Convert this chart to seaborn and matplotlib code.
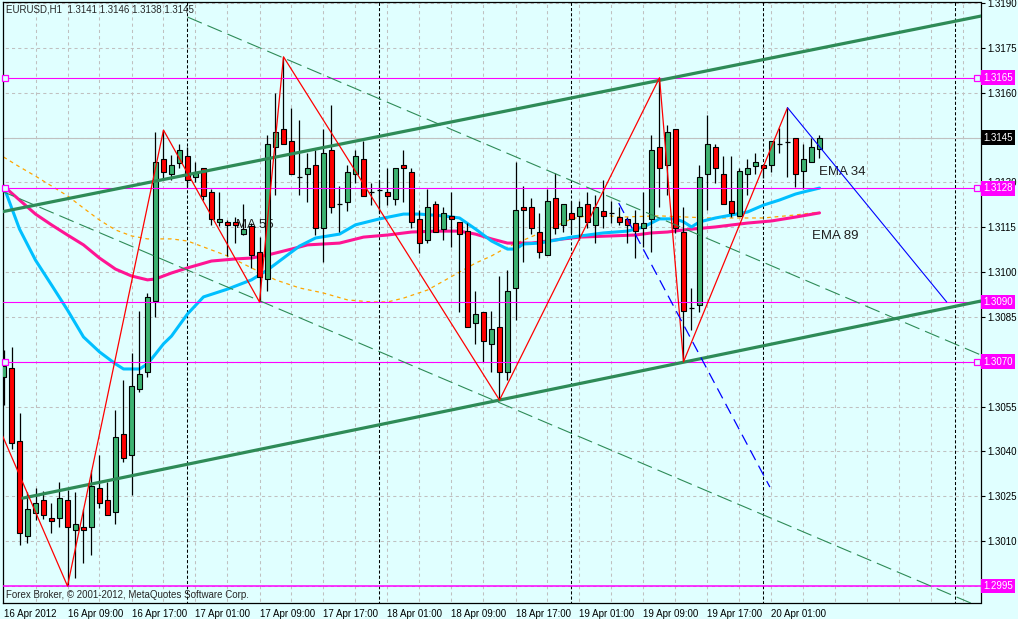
import matplotlib
matplotlib.use("Agg")
import matplotlib.pyplot as plt
import matplotlib.transforms as mtransforms
import numpy as np
import seaborn as sns

# EURUSD H1 candles, bar 0 = 16 Apr 2012 01:00
opens = [1.30649, 1.30679, 1.30435, 1.30118, 1.30195, 1.30238, 1.30178, 1.30178, 1.30238, 1.30138,
         1.30148, 1.30148, 1.30278, 1.30238, 1.30198, 1.30459, 1.30389, 1.30609, 1.30666, 1.30903,
         1.31378, 1.31328, 1.31365, 1.31388, 1.31318, 1.31348, 1.31268, 1.31168, 1.31168, 1.31168,
         1.31128, 1.31154, 1.31067, 1.30977, 1.31418, 1.31479, 1.31439, 1.31318, 1.31328, 1.31358,
         1.31148, 1.31408, 1.31228, 1.31235, 1.31328, 1.31378, 1.31268, 1.31275, 1.31268, 1.31245,
         1.31358, 1.31335, 1.31178, 1.31107, 1.31228, 1.31144, 1.31188, 1.31168, 1.31138, 1.30830,
         1.30867, 1.30760, 1.30817, 1.30666, 1.30947, 1.31218, 1.31218, 1.31134, 1.31057, 1.31248,
         1.31158, 1.31198, 1.31188, 1.31228, 1.31158, 1.31204, 1.31198, 1.31184, 1.31178, 1.31164,
         1.31148, 1.31178, 1.31418, 1.31358, 1.31479, 1.31134, 1.30880, 1.30890, 1.31328, 1.31418,
         1.31328, 1.31238, 1.31188, 1.31328, 1.31355, 1.31358, 1.31358, 1.31428, 1.31435, 1.31449,
         1.31338, 1.31368, 1.31410]
highs = [1.30740, 1.30750, 1.30529, 1.30265, 1.30278, 1.30268, 1.30228, 1.30298, 1.30271, 1.30265,
         1.30208, 1.30338, 1.30389, 1.30298, 1.30539, 1.30639, 1.30730, 1.30870, 1.30930, 1.31469,
         1.31475, 1.31392, 1.31428, 1.31418, 1.31368, 1.31348, 1.31278, 1.31268, 1.31174, 1.31184,
         1.31228, 1.31164, 1.31118, 1.31459, 1.31599, 1.31720, 1.31549, 1.31509, 1.31398, 1.31408,
         1.31479, 1.31559, 1.31288, 1.31358, 1.31408, 1.31439, 1.31298, 1.31308, 1.31348, 1.31348,
         1.31408, 1.31348, 1.31208, 1.31278, 1.31238, 1.31218, 1.31268, 1.31168, 1.31164, 1.30937,
         1.30867, 1.30870, 1.30987, 1.31007, 1.31368, 1.31288, 1.31248, 1.31198, 1.31278, 1.31332,
         1.31228, 1.31238, 1.31238, 1.31268, 1.31258, 1.31308, 1.31238, 1.31218, 1.31184, 1.31208,
         1.31268, 1.31459, 1.31650, 1.31492, 1.31479, 1.31218, 1.30947, 1.31358, 1.31525, 1.31428,
         1.31388, 1.31388, 1.31348, 1.31378, 1.31398, 1.31358, 1.31439, 1.31482, 1.31550, 1.31449,
         1.31428, 1.31449, 1.31460]
lows = [1.30556, 1.30409, 1.30088, 1.30094, 1.30171, 1.30175, 1.30128, 1.30148, 1.29950, 1.29977,
        1.30027, 1.30054, 1.30211, 1.30188, 1.30158, 1.30365, 1.30255, 1.30599, 1.30649, 1.30850,
        1.31308, 1.31308, 1.31348, 1.31285, 1.31301, 1.31241, 1.31158, 1.31154, 1.31054, 1.31097,
        1.31125, 1.31014, 1.30900, 1.30937, 1.31258, 1.31428, 1.31328, 1.31258, 1.31235, 1.31124,
        1.31034, 1.31198, 1.31134, 1.31204, 1.31298, 1.31255, 1.31224, 1.31198, 1.31224, 1.31224,
        1.31235, 1.31148, 1.31064, 1.31097, 1.31134, 1.31107, 1.31084, 1.30867, 1.30817, 1.30760,
        1.30700, 1.30666, 1.30572, 1.30639, 1.30840, 1.31034, 1.31128, 1.31047, 1.31057, 1.31128,
        1.31134, 1.31130, 1.31107, 1.31148, 1.31097, 1.31148, 1.31164, 1.31158, 1.31097, 1.31047,
        1.31084, 1.31067, 1.31218, 1.31258, 1.31130, 1.30700, 1.30807, 1.30867, 1.31208, 1.31298,
        1.31228, 1.31184, 1.31188, 1.31258, 1.31328, 1.31315, 1.31335, 1.31398, 1.31318, 1.31285,
        1.31278, 1.31368, 1.31380]
closes = [1.30686, 1.30429, 1.30128, 1.30208, 1.30228, 1.30188, 1.30168, 1.30245, 1.30148, 1.30158,
          1.30138, 1.30285, 1.30228, 1.30188, 1.30449, 1.30378, 1.30619, 1.30659, 1.30917, 1.31368,
          1.31335, 1.31358, 1.31408, 1.31308, 1.31335, 1.31255, 1.31178, 1.31178, 1.31158, 1.31158,
          1.31144, 1.31057, 1.30984, 1.31428, 1.31469, 1.31428, 1.31328, 1.31320, 1.31348, 1.31148,
          1.31398, 1.31218, 1.31230, 1.31335, 1.31388, 1.31255, 1.31270, 1.31277, 1.31255, 1.31348,
          1.31348, 1.31168, 1.31097, 1.31218, 1.31134, 1.31198, 1.31178, 1.31128, 1.30817, 1.30860,
          1.30770, 1.30810, 1.30666, 1.30937, 1.31208, 1.31208, 1.31148, 1.31067, 1.31238, 1.31148,
          1.31228, 1.31178, 1.31218, 1.31168, 1.31218, 1.31188, 1.31200, 1.31168, 1.31158, 1.31138,
          1.31164, 1.31408, 1.31348, 1.31469, 1.31148, 1.30870, 1.30882, 1.31318, 1.31428, 1.31348,
          1.31228, 1.31198, 1.31338, 1.31348, 1.31368, 1.31348, 1.31439, 1.31430, 1.31437, 1.31328,
          1.31378, 1.31418, 1.31450]

# moving averages (bar, price)
ema34_bars = [0, 2, 4, 6, 8, 10, 12, 14, 15, 17, 18, 19, 20, 21, 23, 25, 28, 31, 33, 35,
              37, 39, 42, 44, 47, 50, 52, 55, 57, 59, 61, 63, 64, 65, 67, 71, 75, 78, 80, 82,
              84, 85, 86, 87, 89, 91, 93, 95, 97, 99, 100, 102]
ema34 = [1.31288, 1.31144, 1.31040, 1.30957, 1.30873, 1.30783, 1.30733, 1.30693, 1.30676, 1.30676,
         1.30693, 1.30726, 1.30760, 1.30786, 1.30860, 1.30917, 1.30943, 1.30974, 1.31007, 1.31047,
         1.31087, 1.31114, 1.31127, 1.31158, 1.31178, 1.31194, 1.31194, 1.31188, 1.31181, 1.31144,
         1.31104, 1.31077, 1.31077, 1.31094, 1.31097, 1.31117, 1.31131, 1.31137, 1.31151, 1.31178,
         1.31178, 1.31168, 1.31151, 1.31168, 1.31181, 1.31191, 1.31201, 1.31224, 1.31241, 1.31261,
         1.31268, 1.31281]
ema89_bars = [0, 2, 4, 6, 8, 10, 12, 14, 16, 18, 19, 20, 21, 23, 26, 29, 31, 33, 36, 38,
              42, 45, 48, 51, 54, 57, 59, 61, 63, 66, 70, 72, 76, 79, 81, 83, 85, 89, 93, 96,
              99, 102]
ema89 = [1.31288, 1.31241, 1.31194, 1.31158, 1.31124, 1.31091, 1.31047, 1.31010, 1.30987, 1.30974,
         1.30977, 1.30987, 1.30997, 1.31014, 1.31037, 1.31044, 1.31047, 1.31057, 1.31077, 1.31091,
         1.31097, 1.31117, 1.31124, 1.31134, 1.31137, 1.31137, 1.31127, 1.31111, 1.31097, 1.31097,
         1.31111, 1.31117, 1.31121, 1.31124, 1.31131, 1.31134, 1.31141, 1.31151, 1.31164, 1.31171,
         1.31184, 1.31198]
ma55_bars = [0, 2, 4, 6, 8, 10, 12, 14, 16, 18, 21, 23, 25, 28, 31, 34, 37, 40, 43, 46,
             48, 50, 53, 55, 57, 59, 61, 63, 65, 68, 71, 74, 77, 82, 88, 95, 99, 102]
ma55 = [1.31385, 1.31352, 1.31321, 1.31288, 1.31255, 1.31214, 1.31174, 1.31141, 1.31121, 1.31111,
        1.31111, 1.31104, 1.31084, 1.31054, 1.31014, 1.30974, 1.30947, 1.30930, 1.30907, 1.30900,
        1.30900, 1.30913, 1.30940, 1.30970, 1.31000, 1.31030, 1.31054, 1.31084, 1.31107, 1.31141,
        1.31178, 1.31194, 1.31184, 1.31188, 1.31181, 1.31181, 1.31191, 1.31201]

# zigzag and drawn objects
zz_bars = [-0.5, 8, 20, 32, 35, 62, 82, 85, 98]
zz_prices = [1.30476, 1.29950, 1.31475, 1.30900, 1.31720, 1.30572, 1.31650, 1.30700, 1.31550]
blue_bars = [98, 117.9]
blue_prices = [1.31550, 1.30900]
blue_dash_bars = [76.9, 95.8]
blue_dash_prices = [1.31231, 1.30281]
chan_up_bars = [-0.5, 122.5]
chan_up = [1.31200, 1.31858]
chan_lo_bars = [2.4, 122.5]
chan_lo = [1.30244, 1.30905]
dash_a_bars = [23, 122.5]
dash_a = [1.31853, 1.30719]
dash_b_bars = [-0.5, 122.5]
dash_b = [1.31274, 1.29875]

levels = [1.3165, 1.3128, 1.3090, 1.3070, 1.2995]
level_marks = [True, True, False, True, False]
bid = 1.3145

yticks = [1.3190, 1.3175, 1.3160, 1.3145, 1.3130, 1.3115, 1.3100, 1.3085, 1.3070,
          1.3055, 1.3040, 1.3025, 1.3010, 1.2995]
xtick_bars = [0, 8, 16, 24, 32, 40, 48, 56, 64, 72, 80, 88, 96]
xtick_labels = ['16 Apr 2012', '16 Apr 09:00', '16 Apr 17:00', '17 Apr 01:00', '17 Apr 09:00',
                '17 Apr 17:00', '18 Apr 01:00', '18 Apr 09:00', '18 Apr 17:00', '19 Apr 01:00',
                '19 Apr 09:00', '19 Apr 17:00', '20 Apr 01:00']
day_seps = [23, 47, 71, 95, 119]

BG = '#E0FFFF'
sns.set_style("white", rc={"axes.facecolor": BG, "figure.facecolor": BG,
                           "axes.edgecolor": "black"})
plt.rcParams['font.family'] = ['Liberation Sans', 'DejaVu Sans']

fig = plt.figure(figsize=(10.18, 6.19), dpi=100)
ax = fig.add_axes([3 / 1018, 16 / 619, 977.5 / 1018, 601 / 619])
ax.set_xlim(-0.0625, 122.125)
ax.set_ylim(1.298933, 1.319033)

# grid
ax.hlines(yticks, -1, 123, colors='#C0C0C0', linestyles=(0, (3, 3)), lw=0.75, zorder=0.5)
ax.vlines(np.arange(4, 121, 4), 1.29, 1.33, colors='#C0C0C0', linestyles=(0, (3, 3)),
          lw=0.75, zorder=0.5)
ax.vlines(day_seps, 1.29, 1.33, colors='black', linestyles=(0, (3, 2)), lw=0.75, zorder=0.6)

# moving averages
sns.lineplot(x=ma55_bars, y=ma55, ax=ax, color='#FFA500', lw=0.9, dashes=False,
             linestyle=(0, (3, 3)), zorder=1.5)
sns.lineplot(x=ema89_bars, y=ema89, ax=ax, color='#FF1493', lw=2.2, zorder=1.6)
sns.lineplot(x=ema34_bars, y=ema34, ax=ax, color='#00BFFF', lw=2.2, zorder=1.7)

ax.text(29.1, 1.31158, 'MA 55', fontsize=9.5, color='#202020', va='center', zorder=1)
ax.text(101.9, 1.31335, 'EMA 34', fontsize=9.5, color='#202020', va='center', zorder=1)
ax.text(101.1, 1.31121, 'EMA 89', fontsize=9.5, color='#202020', va='center', zorder=1)

# candles
o = np.array(opens)
c = np.array(closes)
xs = np.arange(len(o))
ax.vlines(xs, lows, highs, colors='black', lw=0.9, zorder=3)
doji = np.abs(c - o) < 0.00004
body_col = np.where(c >= o, '#3CB371', '#FF0000')
ax.bar(xs[~doji], np.abs(c - o)[~doji], bottom=np.minimum(o, c)[~doji], width=0.62,
       color=body_col[~doji], edgecolor='black', lw=0.8, zorder=3.1)
ax.hlines(o[doji], xs[doji] - 0.35, xs[doji] + 0.35, colors='black', lw=0.9, zorder=3.1)

# objects
ax.axhline(bid, color='#C0C0C0', lw=0.8, zorder=2)
for lvl, mk in zip(levels, level_marks):
    ax.axhline(lvl, color='#FF00FF', lw=1.1 if lvl < 1.30 else 0.8, zorder=4)
    if mk:
        ax.plot([0.2, 121.7], [lvl, lvl], 's', ms=4, mfc=BG, mec='#FF00FF', mew=0.9,
                clip_on=False, zorder=5)

sns.lineplot(x=chan_up_bars, y=chan_up, ax=ax, color='#2E8B57', lw=2.3, zorder=4)
sns.lineplot(x=chan_lo_bars, y=chan_lo, ax=ax, color='#2E8B57', lw=2.3, zorder=4)
ax.plot(dash_a_bars, dash_a, color='#2E8B57', lw=0.8, dashes=(14, 5.5), zorder=4)
ax.plot(dash_b_bars, dash_b, color='#2E8B57', lw=0.8, dashes=(14, 5.5), zorder=4)
sns.lineplot(x=zz_bars, y=zz_prices, ax=ax, color='#FF0000', lw=0.9, zorder=4.2)
sns.lineplot(x=blue_bars, y=blue_prices, ax=ax, color='#0000FF', lw=0.8, zorder=4.2)
ax.plot(blue_dash_bars, blue_dash_prices, color='#0000FF', lw=0.9, dashes=(9, 5), zorder=4.2)

# axes, ticks (labels under the price boxes stay blank)
boxed = levels + [bid]
for s in ax.spines.values():
    s.set_color('black')
    s.set_linewidth(0.9)
ax.yaxis.tick_right()
ax.set_yticks(yticks)
ax.set_yticklabels(['' if any(abs(v - b) < 1e-6 for b in boxed) else '%.4f' % v
                    for v in yticks])
ax.tick_params(axis='y', direction='out', length=3, width=0.8, pad=2, labelsize=7,
               colors='black', right=True, left=False)
ax.set_xticks(xtick_bars)
ax.set_xticklabels(xtick_labels, ha='left')
ax.tick_params(axis='x', direction='out', length=3, width=0.8, pad=1.5, labelsize=7,
               colors='black')
ax.set_xlabel('')
ax.set_ylabel('')

# price boxes on the right scale
tr = mtransforms.blended_transform_factory(ax.transAxes, ax.transData)
for lvl in levels:
    ax.text(1.0027, lvl, '%.4f' % lvl, transform=tr, fontsize=7, color='white', va='center',
            ha='left', bbox=dict(boxstyle='square,pad=0.25', fc='#FF00FF', ec='none'),
            clip_on=False, zorder=6)
ax.text(1.0027, bid, '%.4f' % bid, transform=tr, fontsize=7, color='white', va='center',
        ha='left', bbox=dict(boxstyle='square,pad=0.25', fc='black', ec='none'),
        clip_on=False, zorder=6)

fig.text(6 / 1018, 1 - 10 / 619, 'EURUSD,H1  1.3141 1.3146 1.3138 1.3145', fontsize=7,
         va='center', ha='left')
fig.text(6 / 1018, 1 - 595 / 619, 'Forex Broker, \u00a9 2001-2012, MetaQuotes Software Corp.',
         fontsize=7, va='center', ha='left')

fig.savefig('out.png', dpi=100, facecolor=BG)
